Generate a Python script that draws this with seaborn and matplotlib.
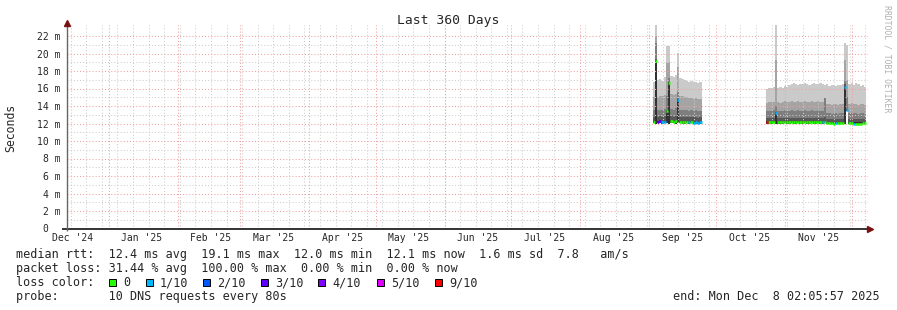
import matplotlib
matplotlib.use("Agg")
import matplotlib.pyplot as plt
import matplotlib.dates as mdates
from matplotlib.patches import Rectangle
import seaborn as sns
import pandas as pd
from datetime import datetime, timedelta

# ---------------- data ----------------
graph_end = datetime(2025, 12, 8, 2, 5, 57)
graph_days = 360

# segment 1: daily rows starting 2025-09-02 12:00 (values in ms)
seg1_start = datetime(2025, 9, 2, 12)
seg1_p10 = [16.8, 23.3, 17.0, 17.1, 16.9, 17.3, 20.9, 20.9, 17.4, 17.3, 17.5, 20.1, 17.2, 17.1, 17.0, 16.9, 16.8, 16.9, 16.7, 16.8, 16.6, 16.7]
seg1_p9 = [15.0, 22.0, 15.0, 15.1, 15.2, 15.3, 18.9, 19.0, 15.4, 15.3, 15.4, 18.5, 15.2, 15.1, 15.0, 15.0, 14.9, 14.9, 14.8, 14.9, 14.8, 14.8]
seg1_p8 = [13.5, 21.2, 13.5, 13.6, 13.6, 13.7, 15.2, 17.2, 13.7, 13.6, 13.8, 15.6, 13.6, 13.5, 13.5, 13.6, 13.4, 13.5, 13.4, 13.5, 13.4, 13.4]
seg1_p7 = [12.8, 19.4, 12.8, 12.9, 12.8, 12.9, 13.6, 16.8, 12.9, 12.8, 12.9, 14.9, 12.8, 12.8, 12.7, 12.8, 12.7, 12.8, 12.7, 12.7, 12.6, 12.7]
seg1_p6 = [12.3, 19.2, 12.3, 12.35, 12.3, 12.3, 13.5, 16.7, 12.35, 12.3, 12.3, 14.8, 12.3, 12.3, 12.25, 12.3, 12.25, 12.3, 12.2, 12.25, 12.2, 12.25]
seg1_med = [12.2, 19.1, 12.2, 12.25, 12.2, 12.2, 13.4, 16.6, 12.3, 12.2, 12.25, 14.7, 12.2, 12.2, 12.15, 12.2, 12.15, 12.2, 12.1, 12.15, 12.1, 12.15]
seg1_min = [12.05, 12.0, 12.05, 12.05, 12.0, 12.05, 12.05, 12.0, 12.05, 12.05, 12.0, 12.05, 12.05, 12.0, 12.0, 12.05, 12.0, 12.05, 12.0, 12.0, 12.0, 12.0]
seg1_loss = [0, 0, 3, 3, 1, 1, 0, 0, 0, 0, 0, 1, 0, 0, 0, 0, 1, 0, 1, 1, 1, 1]

# segment 2: daily rows starting 2025-10-23 12:00 (values in ms)
seg2_start = datetime(2025, 10, 23, 12)
seg2_p10 = [16.0, 16.1, 16.1, 16.2, 23.3, 16.1, 16.2, 16.1, 16.3, 16.2,
            16.4, 16.5, 16.6, 16.5, 16.4, 16.5, 16.5, 16.6, 16.5, 16.4,
            16.5, 16.6, 16.5, 16.5, 16.6, 16.5, 16.4, 16.5, 16.3, 16.4,
            16.4, 16.3, 16.4, 16.4, 16.5, 21.2, 21.0, 16.5, 16.6, 16.4,
            16.6, 16.5, 16.3, 16.4, 16.2]
seg2_p9 = [14.4, 14.5, 14.5, 14.5, 19.3, 14.5, 14.4, 14.5, 14.6, 14.5,
           14.5, 14.6, 14.5, 14.5, 14.6, 14.5, 14.5, 14.6, 14.5, 14.5,
           14.6, 14.5, 14.5, 14.6, 14.5, 14.5, 14.9, 14.2, 14.2, 14.1,
           14.2, 14.2, 14.1, 14.2, 14.2, 19.3, 17.0, 14.2, 14.3, 14.2,
           14.2, 14.1, 14.2, 14.2, 14.1]
seg2_p8 = [13.4, 13.4, 13.4, 13.5, 14.0, 13.4, 13.4, 13.4, 13.5, 13.4,
           13.4, 13.5, 13.4, 13.4, 13.5, 13.4, 13.4, 13.5, 13.4, 13.4,
           13.5, 13.4, 13.4, 13.5, 13.4, 13.4, 14.9, 13.2, 13.2, 13.1,
           13.2, 13.2, 13.1, 13.2, 13.2, 16.9, 15.0, 13.2, 13.2, 13.2,
           13.2, 13.1, 13.2, 13.2, 13.1]
seg2_p7 = [12.6, 12.6, 12.6, 12.65, 13.3, 12.6, 12.6, 12.6, 12.65, 12.6,
           12.6, 12.65, 12.6, 12.6, 12.65, 12.6, 12.6, 12.65, 12.6, 12.6,
           12.65, 12.6, 12.6, 12.65, 12.6, 12.6, 12.7, 12.55, 12.55, 12.5,
           12.55, 12.55, 12.5, 12.55, 12.55, 16.5, 13.7, 12.55, 12.55, 12.55,
           12.55, 12.5, 12.55, 12.55, 12.5]
seg2_p6 = [12.25, 12.25, 12.25, 12.3, 13.25, 12.25, 12.25, 12.25, 12.3, 12.25,
           12.25, 12.3, 12.25, 12.25, 12.3, 12.25, 12.25, 12.3, 12.25, 12.25,
           12.3, 12.25, 12.25, 12.3, 12.25, 12.25, 12.3, 12.2, 12.2, 12.2,
           12.2, 12.2, 12.2, 12.2, 12.2, 16.3, 13.6, 12.2, 12.2, 12.2,
           12.2, 12.2, 12.2, 12.2, 12.2]
seg2_med = [12.15, 12.15, 12.15, 12.2, 13.2, 12.15, 12.15, 12.15, 12.2, 12.15,
            12.15, 12.2, 12.15, 12.15, 12.2, 12.15, 12.15, 12.2, 12.15, 12.15,
            12.2, 12.15, 12.15, 12.2, 12.15, 12.15, 12.2, 12.1, 12.1, 12.1,
            11.95, 12.1, 12.1, 12.1, 12.1, 16.2, 13.5, 12.1, 12.1, 11.95,
            11.95, 11.95, 12.0, 12.1, 12.1]
seg2_min = [12.0, 12.0, 12.0, 12.05, 12.0, 12.0, 12.0, 12.0, 12.05, 12.0,
            12.0, 12.05, 12.0, 12.0, 12.05, 12.0, 12.0, 12.05, 12.0, 12.0,
            12.05, 12.0, 12.0, 12.05, 12.0, 12.0, 12.05, 12.0, 12.0, 12.0,
            11.95, 12.0, 12.0, 12.0, 12.0, 12.0, 13.4, 12.0, 12.0, 11.95,
            11.95, 11.95, 12.0, 12.0, 12.0]
seg2_loss = [9, 0, 0, 0, 1, 0, 0, 0, 0, 0,
             0, 0, 0, 0, 0, 0, 0, 0, 0, 0,
             0, 0, 0, 0, 0, 1, 0, 0, 0, 0,
             0, 1, 0, 0, 0, 1, 1, 0, 0, 1,
             0, 0, 0, 0, 0]

loss_levels = [0, 1, 2, 3, 4, 5, 9]
loss_labels = ["0", "1/10", "2/10", "3/10", "4/10", "5/10", "9/10"]
loss_colors = ["#26ff00", "#00b8ff", "#0059ff", "#5e00ff", "#7e00ff", "#dd00ff", "#ff0000"]

smoke_colors = ["#cacaca", "#a4a4a4", "#7e7e7e", "#585858", "#323232"]

month_labels = ["Dec '24", "Jan '25", "Feb '25", "Mar '25", "Apr '25", "May '25",
                "Jun '25", "Jul '25", "Aug '25", "Sep '25", "Oct '25", "Nov '25"]
y_ticks_ms = [0, 2, 4, 6, 8, 10, 12, 14, 16, 18, 20, 22]

title = "Last 360 Days"
legend_rtt = "median rtt:  12.4 ms avg  19.1 ms max  12.0 ms min  12.1 ms now  1.6 ms sd  7.8   am/s"
legend_loss = "packet loss: 31.44 % avg  100.00 % max  0.00 % min  0.00 % now"
legend_probe = "probe:       10 DNS requests every 80s"
legend_end = "end: Mon Dec  8 02:05:57 2025"

# ---------------- style ----------------
sns.set_style("white")
plt.rcParams['font.family'] = ['DejaVu Sans Mono']

W, H = 897, 310
fig = plt.figure(figsize=(W / 100, H / 100), dpi=100)
ax_left, ax_right, ax_bottom, ax_top = 66.5, 867.5, 228.5, 25.0
ax = fig.add_axes([ax_left / W, (H - ax_bottom) / H, (ax_right - ax_left) / W, (ax_bottom - ax_top) / H])
px_per_ms = 8.75

t_end = mdates.date2num(graph_end)
t_start = mdates.date2num(graph_end - timedelta(days=graph_days))

median_rows = []


def draw_segment(start, lo, bands, med, loss, seg_id):
    n = len(med)
    t = [mdates.date2num(start + timedelta(days=i)) for i in range(n + 1)]
    ylo = list(lo) + [lo[-1]]
    for vals, col in zip(bands, smoke_colors):
        y = list(vals) + [vals[-1]]
        ax.fill_between(t, ylo, y, step='post', color=col, linewidth=0,
                        antialiased=False, zorder=1)
    # median: one horizontal step per row, coloured by its loss level
    for i in range(n):
        lab = loss_labels[loss_levels.index(loss[i])]
        unit = f"{seg_id}-{i}"
        median_rows.append({"t": t[i], "ms": med[i], "loss": lab, "unit": unit})
        median_rows.append({"t": t[i + 1], "ms": med[i], "loss": lab, "unit": unit})


draw_segment(seg1_start, seg1_min, [seg1_p10, seg1_p9, seg1_p8, seg1_p7, seg1_p6], seg1_med, seg1_loss, 1)
draw_segment(seg2_start, seg2_min, [seg2_p10, seg2_p9, seg2_p8, seg2_p7, seg2_p6], seg2_med, seg2_loss, 2)

median_df = pd.DataFrame(median_rows)
sns.lineplot(data=median_df, x="t", y="ms", hue="loss", units="unit", estimator=None,
             palette=dict(zip(loss_labels, loss_colors)), sort=False, linewidth=1.9,
             legend=False, ax=ax, zorder=4, solid_capstyle='butt')

ax.set_xlim(t_start, t_end)
ax.set_ylim(0, (ax_bottom - ax_top) / px_per_ms)

# grid
gray = "#cdcdcd"
red = "#f3a0a0"
dots = (0, (1, 2))
wk = datetime(2024, 12, 15)
while wk < graph_end:
    ax.axvline(mdates.date2num(wk), color=gray, ls=dots, lw=0.75, zorder=2)
    wk += timedelta(days=7)
for v in range(1, 23):
    ax.axhline(v, color=(red if v % 2 == 0 else gray), ls=dots, lw=0.75, zorder=2)
month_starts = [datetime(2025, m, 1) for m in range(1, 13)]
for ms in month_starts:
    ax.axvline(mdates.date2num(ms), color=red, ls=dots, lw=0.75, zorder=2.5)

# ticks
label_pos = [mdates.date2num(datetime(2024, 12, 16))] + \
            [mdates.date2num(datetime(2025, m, 16)) for m in range(1, 12)]
ax.set_xticks(label_pos)
ax.set_xticklabels(month_labels)
ax.set_yticks(y_ticks_ms)
ax.set_yticklabels(["0  " if v == 0 else f"{v} m" for v in y_ticks_ms])
ax.tick_params(axis='x', length=0, pad=3, labelsize=7)
ax.tick_params(axis='y', length=0, pad=4.5, labelsize=7)
ax.set_xlabel("")
ax.set_ylabel("")
for s in ax.spines.values():
    s.set_visible(False)

# axes lines & arrows
ax.plot([-0.005, 1.0], [0, 0], transform=ax.transAxes, color='#111111', lw=1.2,
        clip_on=False, zorder=5, solid_capstyle='butt')
ax.plot([0, 0], [-0.013, 1.0], transform=ax.transAxes, color='#666666', lw=1.0,
        clip_on=False, zorder=5, solid_capstyle='butt')
ax.plot([(870 - ax_left) / (ax_right - ax_left)], [0], marker='>', ms=4.5,
        color='#7a1010', transform=ax.transAxes, clip_on=False, zorder=6)
ax.plot([0], [(ax_bottom - 23) / (ax_bottom - ax_top)], marker='^', ms=4.5,
        color='#7a1010', transform=ax.transAxes, clip_on=False, zorder=6)


def ftext(x, y, s, **kw):
    fig.text(x / W, 1 - y / H, s, **kw)


ftext(448, 24, title, ha='center', va='baseline', fontsize=9.4)
ftext(11, 127.5, "Seconds", ha='center', va='center', rotation=90, fontsize=8.3)
ftext(887, 5, "RRDTOOL / TOBI OETIKER", ha='center', va='top', rotation=270,
      fontsize=5.9, color='#b0b0b0')

fs = 8.5
ftext(16, 258.3, legend_rtt, ha='left', va='baseline', fontsize=fs)
ftext(16, 272.3, legend_loss, ha='left', va='baseline', fontsize=fs)
ftext(16, 286.5, "loss color:", ha='left', va='baseline', fontsize=fs)
ftext(16, 300.3, legend_probe, ha='left', va='baseline', fontsize=fs)
ftext(880, 300.3, legend_end, ha='right', va='baseline', fontsize=fs)

square_x = [109, 146, 203, 261, 318, 377, 435]
for sx, lab, col in zip(square_x, loss_labels, loss_colors):
    fig.add_artist(Rectangle((sx / W, 1 - 285.5 / H), 7 / W, 7 / H, transform=fig.transFigure,
                             facecolor=col, edgecolor='#000000', lw=0.7))
    ftext(sx + 14, 286.5, lab, ha='left', va='baseline', fontsize=fs)

fig.savefig("out.png", dpi=100)
